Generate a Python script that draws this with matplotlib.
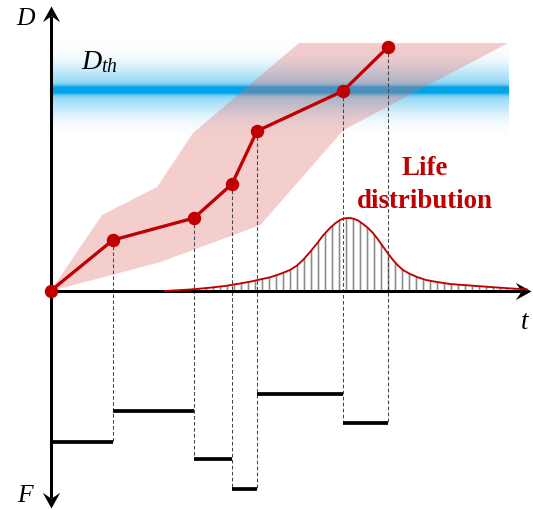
import numpy as np
import matplotlib
matplotlib.use("Agg")
import matplotlib.pyplot as plt
from matplotlib.path import Path

# ---------------- data (arbitrary units: t to the right, D up, F down) -------------
t_pts = [0.0, 6.25, 14.35, 18.15, 20.65, 29.25, 33.75]
D_pts = [0.0, 5.1, 7.3, 10.7, 16.0, 20.0, 24.4]
F_levels = [15.1, 12.0, 16.8, 19.8, 10.3, 13.2]   # one level per interval between points
D_th = 20.1

band_upper_t = [0.0, 5.15, 10.65, 14.25, 24.85, 45.75]
band_upper_D = [0.0, 7.6, 10.4, 15.8, 24.8, 24.8]
band_lower_t = [0.0, 5.0, 11.0, 21.0, 29.3, 45.75]
band_lower_D = [0.0, 1.3, 2.9, 6.6, 16.1, 24.8]

life_t = [11.45, 13.95, 15.65, 17.45, 18.95, 19.95, 21.95, 22.95, 23.95, 24.65,
          25.25, 25.95, 26.65, 27.25, 27.95, 28.45, 28.95, 29.45, 29.95, 30.35,
          30.75, 31.25, 31.75, 32.25, 32.75, 33.25, 33.75, 34.25, 34.75, 35.25,
          35.95, 36.65, 37.55, 38.65, 39.95, 41.25, 44.65, 47.65]
life_p = [0.0, 0.15, 0.3, 0.5, 0.75, 0.93, 1.37, 1.7, 2.1, 2.55,
          3.1, 3.9, 4.75, 5.55, 6.3, 6.75, 7.1, 7.28, 7.3, 7.22,
          7.05, 6.7, 6.3, 5.8, 5.15, 4.45, 3.75, 3.1, 2.55, 2.1,
          1.7, 1.4, 1.1, 0.9, 0.7, 0.6, 0.35, 0.15]

# axis extents
t_min, t_max = -5.05, 48.25
y_min, y_max = -21.9, 29.1
D_axis_top, F_axis_bottom, t_axis_end = 28.5, -21.7, 48.0
band_t0, band_t1 = 0.15, 45.75

DPI = 84
plt.rcParams["mathtext.fontset"] = "custom"
plt.rcParams["mathtext.it"] = "Liberation Serif:italic"
plt.rcParams["mathtext.rm"] = "Liberation Serif"
plt.rcParams["hatch.linewidth"] = 1.4
plt.rcParams["hatch.color"] = "#8c8c8c"

fig = plt.figure(figsize=(533 / DPI, 510 / DPI), dpi=DPI)
ax = fig.add_axes([0, 0, 1, 1])
ax.axis("off")

red = "#c00000"

# ---- threshold band (blue gradient) ----
lo, hi = D_th - 5.0, D_th + 5.0
yy = np.linspace(lo, hi, 500)
d = (yy - D_th) * 10.0
alpha = np.clip(0.9 * np.exp(-(d / 4.2) ** 2) + 0.45 * np.exp(-(d / 23.0) ** 2), 0, 1)
img = np.zeros((len(yy), 1, 4))
img[..., 0], img[..., 1], img[..., 2] = 0.0, 0.64, 0.91
img[..., 3] = alpha[:, None]
ax.imshow(img, extent=[band_t0, band_t1, lo, hi], origin="lower",
          aspect="auto", interpolation="bilinear", zorder=1)

# ---- pink uncertainty band ----
poly_t = list(band_upper_t) + list(band_lower_t[::-1])
poly_D = list(band_upper_D) + list(band_lower_D[::-1])
ax.fill(poly_t, poly_D, facecolor="#e06a6a", alpha=0.33, edgecolor="none", zorder=2)

# ---- life distribution ----
ax.fill_between(life_t, 0, life_p, facecolor="none", edgecolor="#8c8c8c",
                hatch="||", linewidth=0, zorder=2)

# ---- axes with arrows ----
ax.plot([0, 0], [F_axis_bottom + 1.0, D_axis_top - 1.0], color="black", lw=2.6,
        solid_capstyle="butt", zorder=4)
ax.plot([0, t_axis_end - 1.0], [0, 0], color="black", lw=2.6,
        solid_capstyle="butt", zorder=4)

def head(rot):
    v = np.array([(0, 0), (0.55, -1.0), (0, -0.62), (-0.55, -1.0), (0, 0)])
    c, s = np.cos(np.radians(rot)), np.sin(np.radians(rot))
    v = v @ np.array([[c, s], [-s, c]])
    return Path(v, [Path.MOVETO, Path.LINETO, Path.LINETO, Path.LINETO, Path.CLOSEPOLY])

for (x, y, rot) in [(0, D_axis_top, 0), (0, F_axis_bottom, 180), (t_axis_end, 0, -90)]:
    ax.plot([x], [y], marker=head(rot), markersize=27, color="black",
            markeredgewidth=0, zorder=4)

ax.plot(life_t, life_p, color=red, lw=1.6, zorder=4.5)

# ---- dashed projections and step loads ----
for i in range(1, len(t_pts)):
    lower = F_levels[i - 1] if i == len(t_pts) - 1 else max(F_levels[i - 1], F_levels[i])
    ax.plot([t_pts[i], t_pts[i]], [D_pts[i], -lower], color="#444444", lw=0.9,
            linestyle=(0, (3.5, 2.2)), zorder=3)

for i, f in enumerate(F_levels):
    ax.plot([t_pts[i], t_pts[i + 1]], [-f, -f], color="black", lw=3.2,
            solid_capstyle="butt", zorder=4)

# ---- degradation path ----
ax.plot(t_pts, D_pts, color=red, lw=2.8, marker="o", markersize=10.5, zorder=5)

# ---- labels ----
ax.text(-2.45, 27.3, "$D$", fontsize=22, ha="center", va="center")
ax.text(-2.45, -20.4, "$F$", fontsize=22, ha="center", va="center")
ax.text(47.45, -3.1, "$t$", fontsize=23, ha="center", va="center")
ax.text(3.0, 22.2, "$D_{th}$", fontsize=24, ha="left", va="baseline")
ax.text(37.4, 11.6, "Life", fontsize=23, fontweight="bold", color=red,
        family="Liberation Serif", ha="center", va="baseline")
ax.text(37.4, 8.3, "distribution", fontsize=23, fontweight="bold", color=red,
        family="Liberation Serif", ha="center", va="baseline")

ax.set_xlim(t_min, t_max)
ax.set_ylim(y_min, y_max)
fig.savefig("out.png", dpi=DPI)
